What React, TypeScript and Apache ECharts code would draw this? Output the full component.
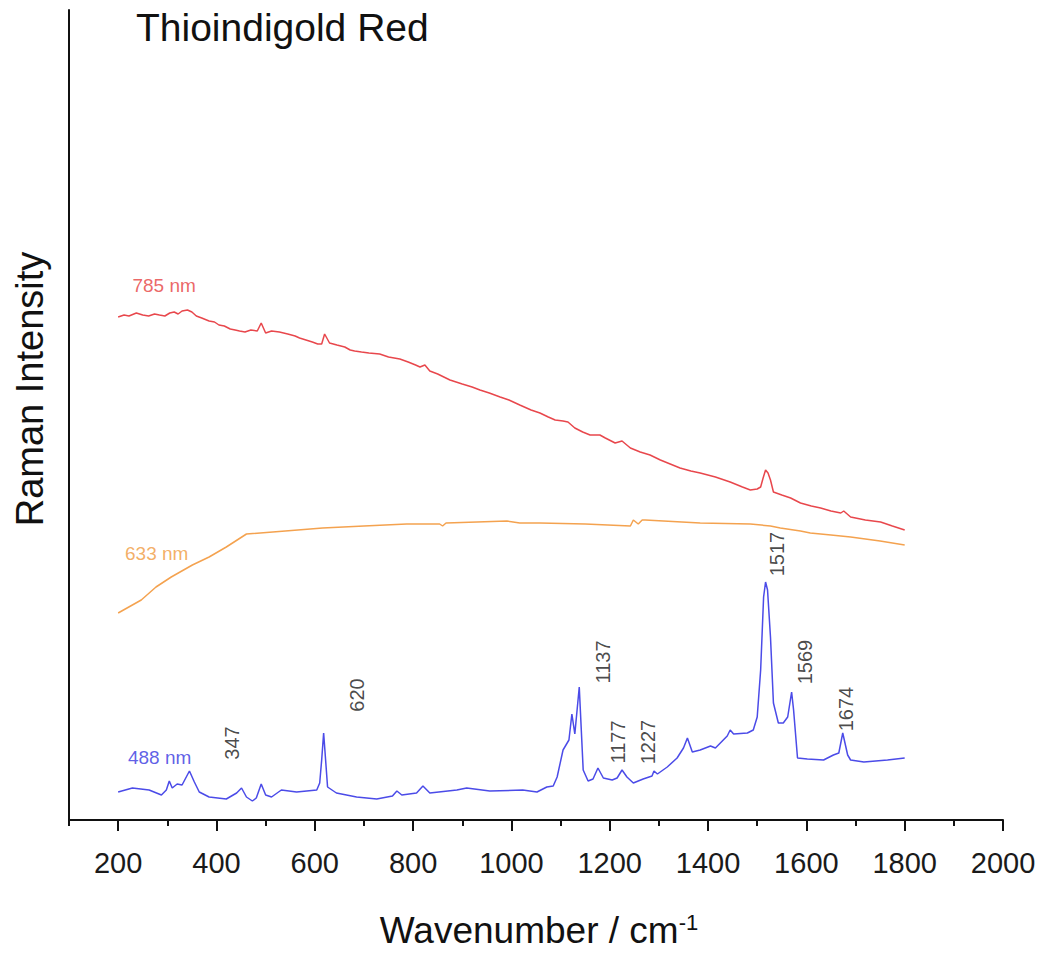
import React, { useEffect, useRef } from "react";
import * as echarts from "echarts";

// ---- data (wavenumber cm-1, relative intensity) ----
const red785: [number, number][] = [
  [200, 503], [212, 505], [222, 504], [237, 507], [250, 505], [262, 504], [274, 506], [284, 505],
  [295, 504], [305, 507], [314, 508], [322, 506], [330, 509], [341, 510], [350, 508], [359, 504],
  [370, 502], [385, 499], [396, 498], [405, 495], [416, 494], [428, 491], [438, 490], [447, 489],
  [458, 488], [470, 490], [483, 489], [491, 497], [500, 487], [512, 489], [528, 488], [545, 486],
  [560, 484], [569, 482], [582, 480], [595, 478], [606, 476], [614, 476], [620, 486], [630, 477],
  [645, 475], [661, 473], [672, 470], [681, 469], [695, 468], [710, 467], [732, 466], [750, 463],
  [773, 461], [790, 458], [805, 455], [814, 453], [824, 455], [834, 449], [850, 446], [875, 440],
  [900, 436], [920, 433], [936, 430], [955, 427], [977, 423], [995, 420], [1017, 415], [1040, 410],
  [1058, 407], [1075, 403], [1089, 400], [1105, 399], [1115, 398], [1129, 392], [1145, 388],
  [1160, 385], [1180, 385], [1191, 382], [1211, 377], [1225, 379], [1242, 372], [1262, 368],
  [1282, 365], [1303, 360], [1323, 356], [1343, 352], [1365, 349], [1384, 347], [1415, 343],
  [1445, 338], [1470, 333], [1486, 330], [1500, 331], [1507, 333], [1512, 342], [1517, 350],
  [1522, 347], [1527, 340], [1533, 328], [1550, 325], [1568, 322], [1588, 317], [1610, 314],
  [1629, 312], [1650, 309], [1670, 307], [1676, 309], [1690, 303], [1720, 300], [1751, 298],
  [1775, 294], [1800, 290],
];

const orange633: [number, number][] = [
  [200, 207], [247, 220], [277, 233], [308, 243], [351, 255], [385, 263], [420, 273], [461, 286],
  [540, 289], [616, 292], [700, 294], [787, 296], [854, 296], [860, 294], [867, 297], [930, 298],
  [991, 299], [1017, 297], [1058, 297], [1150, 296], [1242, 294], [1248, 300], [1258, 296],
  [1262, 298], [1266, 300], [1272, 300], [1384, 297], [1486, 296], [1527, 294], [1547, 292],
  [1588, 289], [1608, 287], [1650, 285], [1690, 283], [1750, 279], [1800, 275],
];

const blue488: [number, number][] = [
  [200, 28], [229, 32], [263, 30], [288, 25], [298, 30], [304, 39], [310, 32], [320, 36],
  [330, 35], [345, 49], [355, 38], [365, 28], [385, 23], [420, 21], [441, 27], [451, 32],
  [461, 23], [473, 19], [481, 22], [491, 36], [500, 25], [512, 23], [532, 30], [563, 28],
  [604, 30], [610, 37], [614, 60], [618, 87], [622, 60], [626, 33], [644, 27], [685, 23],
  [726, 21], [758, 24], [767, 29], [777, 25], [807, 27], [820, 34], [834, 27], [889, 30],
  [909, 32], [956, 29], [1023, 30], [1052, 28], [1072, 33], [1085, 34], [1093, 43], [1105, 70],
  [1117, 80], [1123, 106], [1129, 86], [1138, 133], [1146, 50], [1156, 39], [1166, 41],
  [1176, 52], [1187, 42], [1205, 40], [1215, 42], [1225, 50], [1235, 43], [1248, 37],
  [1268, 41], [1286, 44], [1290, 49], [1297, 46], [1317, 53], [1337, 62], [1350, 72],
  [1358, 82], [1368, 68], [1384, 70], [1405, 74], [1415, 72], [1425, 77], [1439, 84],
  [1445, 90], [1452, 86], [1480, 87], [1492, 90], [1500, 103], [1507, 150], [1513, 223],
  [1517, 238], [1521, 230], [1527, 183], [1533, 117], [1543, 97], [1553, 97], [1562, 103],
  [1570, 128], [1574, 110], [1582, 62], [1602, 61], [1635, 60], [1655, 65], [1666, 67],
  [1674, 87], [1684, 65], [1690, 60], [1717, 58], [1765, 60], [1800, 62],
];

const xMajorTicks = [200, 400, 600, 800, 1000, 1200, 1400, 1600, 1800, 2000];
const xMinorTicks = [100, 300, 500, 700, 900, 1100, 1300, 1500, 1700, 1900];

const peakLabels = ["347", "620", "1137", "1177", "1227", "1517", "1569", "1674"];
const peakLabelPos: [number, number][] = [
  [432, 77], [685, 125], [1187, 158], [1217, 78], [1278, 78], [1541, 266], [1598, 158], [1680, 111],
];

const seriesNames = ["785 nm", "633 nm", "488 nm"];
const seriesLabelPos: [number, number][] = [[229, 535], [214, 267], [220, 63]];
const seriesColors = ["#e8474c", "#f4a24f", "#4b4be8"];
const seriesLabelColors = ["#e64040", "#f09a40", "#3636e0"];

const FONT = "'Liberation Sans', Arial, Helvetica, sans-serif";

export default function App() {
  const ref = useRef<HTMLDivElement>(null);

  useEffect(() => {
    if (!ref.current) return;
    const chart = echarts.init(ref.current, undefined, { renderer: "svg" });
    const lines = [red785, orange633, blue488];
    chart.setOption({
      animation: false,
      textStyle: { fontFamily: FONT },
      grid: { left: 69, right: 37, top: 10, bottom: 133 },
      xAxis: [
        {
          type: "value",
          min: 100,
          max: 2000,
          position: "bottom",
          axisLine: { show: true, lineStyle: { color: "#111", width: 2 } },
          axisTick: { show: true, length: 11, lineStyle: { color: "#111", width: 2 }, customValues: xMajorTicks },
          axisLabel: {
            show: true,
            customValues: xMajorTicks,
            formatter: (v: number) => String(v),
            fontSize: 29,
            color: "#1a1a1a",
            margin: 28,
            fontFamily: FONT,
          },
          splitLine: { show: false },
        },
        {
          type: "value",
          min: 100,
          max: 2000,
          position: "bottom",
          axisLine: { show: false },
          axisTick: { show: true, length: 6, lineStyle: { color: "#111", width: 2 }, customValues: xMinorTicks },
          axisLabel: { show: false },
          splitLine: { show: false },
        },
      ],
      yAxis: {
        type: "value",
        min: 0,
        max: 810,
        axisLine: { show: true, lineStyle: { color: "#111", width: 2 } },
        axisTick: { show: false },
        axisLabel: { show: false },
        splitLine: { show: false },
      },
      graphic: [
        {
          type: "text",
          x: 136,
          y: 27,
          style: { text: "Thioindigold Red", fontSize: 39, fontFamily: FONT, fill: "#111", align: "left", verticalAlign: "middle" },
        },
        {
          type: "text",
          x: 30,
          y: 389,
          rotation: Math.PI / 2,
          style: { text: "Raman Intensity", fontSize: 38, fontFamily: FONT, fill: "#111", align: "center", verticalAlign: "middle" },
        },
        {
          type: "text",
          x: 539,
          y: 930,
          style: {
            text: "Wavenumber / cm{sup|-1}",
            fontSize: 37,
            fontFamily: FONT,
            fill: "#111",
            align: "center",
            verticalAlign: "middle",
            rich: { sup: { fontSize: 22, fontFamily: FONT, fill: "#111", verticalAlign: "top", lineHeight: 37 } },
          },
        },
      ],
      series: [
        ...lines.map((d, i) => ({
          type: "line",
          name: seriesNames[i],
          data: d,
          showSymbol: false,
          symbol: "none",
          silent: true,
          lineStyle: { color: seriesColors[i], width: 1.5 },
          z: 3,
        })),
        {
          type: "scatter",
          silent: true,
          symbolSize: 0,
          data: seriesNames.map((n, i) => ({ name: n, value: seriesLabelPos[i], label: { color: seriesLabelColors[i] } })),
          label: { show: true, position: "right", distance: 0, formatter: "{b}", fontSize: 19, fontFamily: FONT },
          z: 4,
        },
        {
          type: "scatter",
          silent: true,
          symbolSize: 0,
          data: peakLabels.map((t, i) => ({ name: t, value: peakLabelPos[i] })),
          label: {
            show: true,
            position: "inside",
            rotate: 90,
            formatter: "{b}",
            fontSize: 20,
            fontFamily: FONT,
            color: "#1a1a1a",
            align: "center",
            verticalAlign: "middle",
          },
          z: 4,
        },
      ],
    });
    return () => chart.dispose();
  }, []);

  return (
    <div
      ref={ref}
      style={{ position: "fixed", left: 0, top: 0, width: 1040, height: 953, background: "#fff" }}
    />
  );
}
